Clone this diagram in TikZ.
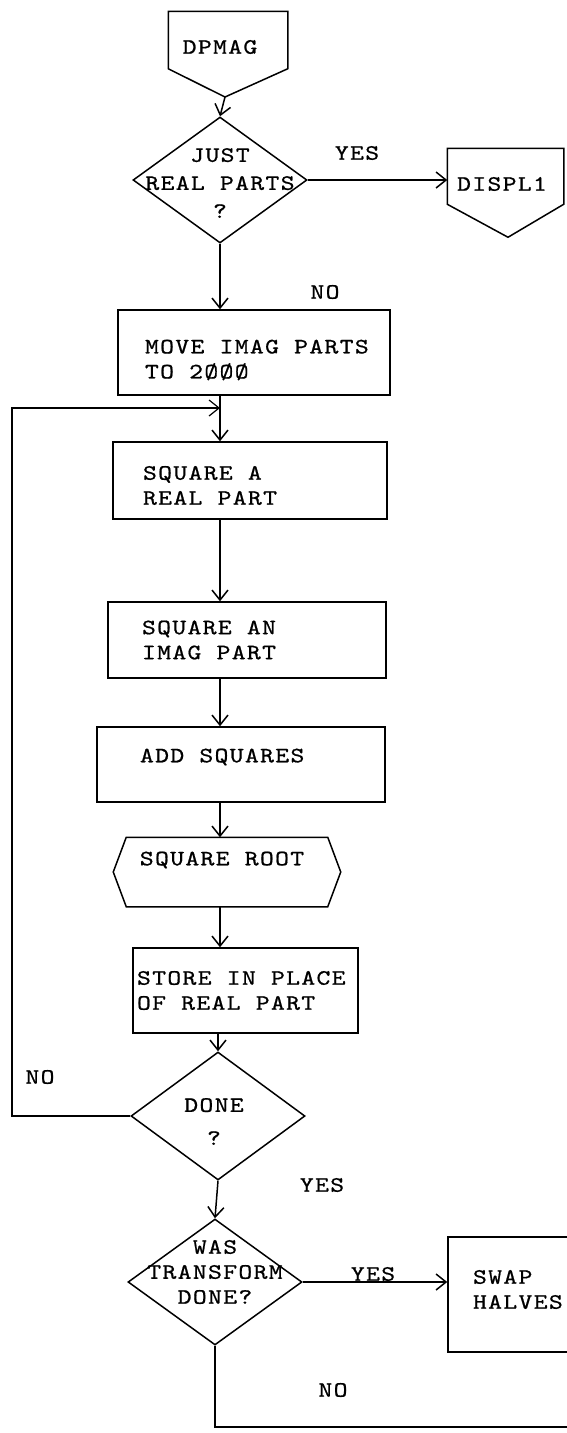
\documentclass[tikz,border=0pt]{standalone}
\usepackage{fontspec}
\newfontfamily\tw{lmmono10-regular}[Extension=.otf,FakeStretch=1.2,LetterSpace=6,FakeBold=0.8]
\usetikzlibrary{arrows.meta,shapes.geometric,calc}
\begin{document}
\begin{tikzpicture}[x=1pt,y=-1pt,
  line width=1.5pt,
  font=\tw\fontsize{22}{25}\selectfont,
  arr/.style={-{Straight Barb[length=10pt,width=16pt]}},
  procbox/.style={draw, rectangle, inner sep=0pt},
  frame/.style={inner sep=0pt},
  decis/.style={draw, diamond, inner sep=0pt, minimum width=174, minimum height=126},
  txt/.style={align=left, inner sep=0pt, anchor=west},
  ctxt/.style={align=center, inner sep=0pt, anchor=center},
  lbl/.style={inner sep=0pt}
]
\useasboundingbox (0,0) rectangle (566,1433);

% DPMAG connector
\node[frame, minimum width=118, minimum height=56,
  label={[ctxt, xshift=-8pt, yshift=-7pt]center:DPMAG}] (dpmag) at (228,40) {};
\coordinate (dpmagtip) at (225,97);
\draw (dpmag.north west) -- (dpmag.north east) -- (dpmag.south east)
  -- (dpmagtip) -- (dpmag.south west) -- cycle;

% decision 1
\node[decis, label={[ctxt, yshift=-3pt]center:{JUST\\[3pt]REAL PARTS\\[3pt]?}}] (d1) at (220,180) {};
\draw[arr] (dpmagtip) -- (d1.north);

% DISPL1 connector
\node[frame, minimum width=115, minimum height=62,
  label={[ctxt, xshift=-3.5pt, yshift=-4pt]center:DISPL1}] (displ1) at (505.5,180) {};
\draw (displ1.north west) -- (displ1.north east) -- ($(displ1.north east)+(0,56)$)
  -- ($(displ1.north)+(2.5,89)$) -- ($(displ1.north west)+(0,56)$) -- cycle;
\draw[arr] (d1.east) -- (displ1.west);
\node[lbl] (yes1) at (357,153) {YES};
\node[lbl] (no1) at (325,292) {NO};

% move imag parts
\node[procbox, minimum width=272, minimum height=85,
  label={[txt, xshift=27pt, yshift=-7.5pt]west:{MOVE IMAG PARTS\\TO 2ØØØ}}] (mv) at (254,352.5) {};
\draw[arr] (d1.south) -- (d1.south |- mv.north);

\coordinate (join) at (220,408);

% square a real part
\node[procbox, minimum width=274, minimum height=77,
  label={[txt, xshift=30pt, yshift=-5pt]west:{SQUARE A\\REAL PART}}] (sa) at (250,480.5) {};
\draw[arr] (mv.south -| join) -- (join |- sa.north);

% square an imag part
\node[procbox, minimum width=278, minimum height=76,
  label={[txt, xshift=34pt]west:{SQUARE AN\\IMAG PART}}] (si) at (247,640) {};
\draw[arr] (sa.south -| join) -- (join |- si.north);

% add squares
\node[procbox, minimum width=288, minimum height=75,
  label={[txt, xshift=43pt, yshift=7.5pt]west:{ADD SQUARES}}] (as) at (241,764.5) {};
\draw[arr] (si.south -| join) -- (join |- as.north);

% square root
\node[frame, minimum width=200, minimum height=68,
  label={[ctxt, xshift=-5pt, yshift=12pt]center:{SQUARE ROOT}}] (sr) at (227,872) {};
\draw (sr.north west) -- (sr.north east) -- ($(sr.east)+(13,0)$) -- (sr.south east)
  -- (sr.south west) -- ($(sr.west)+(-13,0)$) -- cycle;
\draw[arr] (as.south -| join) -- (join |- sr.north);

% store
\node[procbox, minimum width=225, minimum height=85,
  label={[txt, xshift=4pt]west:{STORE IN PLACE\\OF REAL PART}}] (st) at (245.5,990.5) {};
\draw[arr] (sr.south -| join) -- (join |- st.north);

% done decision
\node[decis, minimum height=128, label={[ctxt, xshift=-4pt, yshift=-5.5pt]center:{DONE\\[8pt]?}}] (d2) at (218,1116) {};
\draw[arr] (st.south -| d2.north) -- (d2.north);
\coordinate (loopx) at (12,408);
\draw[arr, line width=1.2pt] (d2.west) -| (loopx) |- (join);
\node[lbl] (no2) at (40,1077) {NO};
\node[lbl] (yes2) at (322,1185) {YES};

% was transform done
\node[decis, label={[ctxt, yshift=10pt]center:{WAS\\TRANSFORM\\DONE?}}] (d3) at (215,1282) {};
\draw[arr] (d2.south) -- (d3.north);

% swap halves
\node[procbox, minimum width=152, minimum height=115,
  label={[txt, xshift=25pt, yshift=5pt]west:{SWAP\\HALVES}}] (sw) at (524,1294.5) {};
\draw[arr] (d3.east) -- (d3.east -| sw.west);
\node[lbl] (yes3) at (373,1274) {YES};

\coordinate (exitr) at (580,1427);
\draw (d3.south) |- (exitr);
\node[lbl] (no3) at (333,1390) {NO};
\end{tikzpicture}
\end{document}
